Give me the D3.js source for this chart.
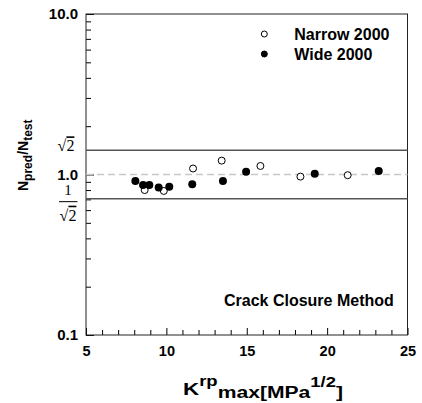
<!DOCTYPE html>
<html>
<head>
<meta charset="utf-8">
<script src="https://cdn.jsdelivr.net/npm/d3@7"></script>
<style>
  body { margin: 0; background: #fff; }
  svg text { font-family: Arial, "Liberation Sans", sans-serif; font-weight: bold; fill: #000; }
  .serif { font-family: "Liberation Serif", "Times New Roman", serif; font-weight: normal; }
</style>
</head>
<body>
<div id="chart"></div>
<script>
// values
var narrowK = [8.65, 9.84, 11.66, 13.44, 15.85, 18.34, 21.28];
var narrowRatio = [0.80, 0.79, 1.09, 1.22, 1.13, 0.97, 0.99];
var wideK = [8.07, 8.55, 8.94, 9.52, 10.18, 11.61, 13.52, 14.96, 19.23, 23.21];
var wideRatio = [0.91, 0.86, 0.86, 0.83, 0.84, 0.87, 0.91, 1.04, 1.01, 1.05];
var xTicks = [5, 10, 15, 20, 25];
var yTicks = [0.1, 1, 10];
var bandLines = [Math.SQRT2, Math.SQRT1_2];
var legendNames = ["Narrow 2000", "Wide 2000"];

var svgWidth = 422;
var svgHeight = 403;
var margin = { top: 14, right: 14.5, bottom: 68, left: 86 };
var width = svgWidth - margin.left - margin.right;
var height = svgHeight - margin.top - margin.bottom;

var svg = d3.select("#chart")
    .append("svg")
    .attr("width", svgWidth)
    .attr("height", svgHeight);

var chartGroup = svg.append("g")
    .attr("transform", `translate(${margin.left}, ${margin.top})`);

var xScale = d3.scaleLinear().domain([5, 25]).range([0, width]);
var yScale = d3.scaleLog().domain([0.1, 10]).range([height, 0]);

// minor ticks (inward)
var xMinor = d3.range(6, 25).filter(d => d % 5 !== 0);
var yMinor = [];
[0.1, 1].forEach(function (dec) {
    for (var k = 2; k <= 9; k++) yMinor.push(dec * k);
});

function styleAxis(g, size) {
    g.select(".domain").remove();
    g.selectAll("line").attr("stroke", "#000").attr("stroke-width", 1);
    g.selectAll("text").attr("font-size", size || "14px").attr("font-family", null);
}

chartGroup.append("g")
    .attr("transform", `translate(0, ${height})`)
    .call(d3.axisBottom(xScale).tickValues(xMinor).tickSizeInner(-5).tickSizeOuter(0).tickFormat(""))
    .call(styleAxis);

chartGroup.append("g")
    .attr("transform", `translate(0, ${height})`)
    .call(d3.axisBottom(xScale).tickValues(xTicks).tickSizeInner(-7).tickSizeOuter(0).tickPadding(11).tickFormat(d3.format("d")))
    .call(styleAxis, "14.5px");

chartGroup.append("g")
    .call(d3.axisLeft(yScale).tickValues(yMinor).tickSizeInner(-5).tickSizeOuter(0).tickFormat(""))
    .call(styleAxis);

chartGroup.append("g")
    .call(d3.axisLeft(yScale).tickValues(yTicks).tickSizeInner(-8).tickSizeOuter(0).tickPadding(8).tickFormat(d3.format(".1f")))
    .call(styleAxis, "15px");

// frame
chartGroup.append("rect")
    .attr("x", 0).attr("y", 0)
    .attr("width", width).attr("height", height)
    .attr("fill", "none")
    .attr("stroke", "#222")
    .attr("stroke-width", 1);

// reference lines
chartGroup.append("line")
    .attr("x1", 0).attr("x2", width)
    .attr("y1", yScale(1)).attr("y2", yScale(1))
    .attr("stroke", "#c8c8c8")
    .attr("stroke-width", 1.5)
    .attr("stroke-dasharray", "7,4");

chartGroup.selectAll(".band")
    .data(bandLines)
    .enter()
    .append("line")
    .attr("class", "band")
    .attr("x1", 0).attr("x2", width)
    .attr("y1", d => yScale(d)).attr("y2", d => yScale(d))
    .attr("stroke", "#555")
    .attr("stroke-width", 1.5);

// sqrt labels
var sq = chartGroup.append("text")
    .attr("class", "serif")
    .attr("x", -20).attr("y", yScale(Math.SQRT2) + 1)
    .attr("text-anchor", "middle")
    .attr("font-size", "16px");
sq.append("tspan").text("\u221A");
sq.append("tspan").attr("text-decoration", "overline").text("2");

var y7 = yScale(Math.SQRT1_2);
chartGroup.append("text")
    .attr("class", "serif")
    .attr("x", -18).attr("y", y7 - 4)
    .attr("text-anchor", "middle")
    .attr("font-size", "15px")
    .text("1");
chartGroup.append("line")
    .attr("x1", -27).attr("x2", -8.5)
    .attr("y1", y7 + 3).attr("y2", y7 + 3)
    .attr("stroke", "#000").attr("stroke-width", 1);
var sq2 = chartGroup.append("text")
    .attr("class", "serif")
    .attr("x", -18).attr("y", y7 + 22)
    .attr("text-anchor", "middle")
    .attr("font-size", "16px");
sq2.append("tspan").text("\u221A");
sq2.append("tspan").attr("text-decoration", "overline").text("2");

// points
var narrow = narrowK.map((k, i) => ({ k: k, r: narrowRatio[i] }));
var wide = wideK.map((k, i) => ({ k: k, r: wideRatio[i] }));

chartGroup.selectAll(".narrow")
    .data(narrow)
    .enter()
    .append("circle")
    .attr("class", "narrow")
    .attr("cx", d => xScale(d.k))
    .attr("cy", d => yScale(d.r))
    .attr("r", 3.5)
    .attr("fill", "#fff")
    .attr("stroke", "#000")
    .attr("stroke-width", 1);

chartGroup.selectAll(".wide")
    .data(wide)
    .enter()
    .append("circle")
    .attr("class", "wide")
    .attr("cx", d => xScale(d.k))
    .attr("cy", d => yScale(d.r))
    .attr("r", 4)
    .attr("fill", "#000");

// legend
var legend = chartGroup.selectAll(".legend")
    .data(legendNames)
    .enter()
    .append("g")
    .attr("class", "legend")
    .attr("transform", (d, i) => `translate(${264.3 - margin.left}, ${20 + i * 20})`);

legend.append("circle")
    .attr("r", 3)
    .attr("fill", (d, i) => i === 0 ? "#fff" : "#000")
    .attr("stroke", "#000")
    .attr("stroke-width", 1);

legend.append("text")
    .attr("x", 30)
    .attr("y", 5.7)
    .attr("font-size", "16px")
    .text(d => d);

chartGroup.append("text")
    .attr("x", 224 - margin.left)
    .attr("y", 306 - margin.top)
    .attr("font-size", "16px")
    .text("Crack Closure Method");

// axis titles
var xt = svg.append("text")
    .attr("x", 183)
    .attr("y", 395)
    .attr("font-size", "17px")
    .attr("textLength", 160)
    .attr("lengthAdjust", "spacingAndGlyphs");
xt.append("tspan").text("K");
xt.append("tspan").attr("font-size", "14px").attr("dy", -9).text("rp");
xt.append("tspan").attr("font-size", "16px").attr("dy", 12).text("max[MPa");
xt.append("tspan").attr("font-size", "14px").attr("dy", -11).text("1/2");
xt.append("tspan").attr("font-size", "16px").attr("dy", 11).text("]");

var yt = svg.append("text")
    .attr("transform", "translate(28, 191) rotate(-90)")
    .attr("font-size", "14px");
yt.append("tspan").text("N");
yt.append("tspan").attr("font-size", "12px").attr("dy", 4).text("pred");
yt.append("tspan").attr("dy", -4).text("/N");
yt.append("tspan").attr("font-size", "12px").attr("dy", 4).text("test");
</script>
</body>
</html>
